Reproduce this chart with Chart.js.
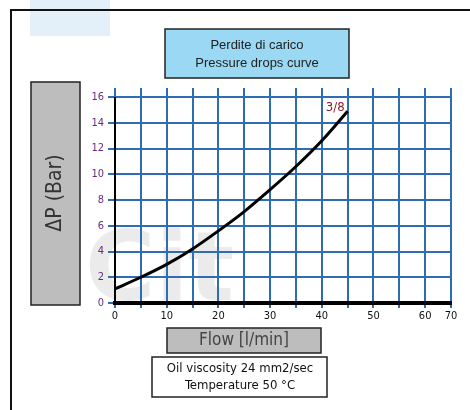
<!DOCTYPE html>
<html>
<head>
<meta charset="utf-8">
<script src="https://cdn.jsdelivr.net/npm/chart.js@4"></script>
<style>
  html, body { margin: 0; padding: 0; background: #fff; }
  #wrap { position: relative; width: 470px; height: 410px; }
</style>
</head>
<body>
<div id="wrap"><canvas id="chart" width="470" height="410"></canvas></div>
<script>
// flow [l/min] vs pressure drop [bar]
const flow = [0, 5, 10, 15, 20, 25, 30, 35, 40, 45];
const pressure = [1.1, 2.0, 3.0, 4.2, 5.6, 7.1, 8.8, 10.6, 12.6, 14.9];
const curveName = "3/8";
const titleLines = ["Perdite di carico", "Pressure drops curve"];
const yTitle = "\u0394P (Bar)";
const xTitle = "Flow [l/min]";
const noteLines = ["Oil viscosity 24 mm2/sec", "Temperature 50 \u00b0C"];

const handFont = "'DejaVu Sans Condensed', 'Liberation Sans Narrow', sans-serif";

function box(ctx, x, y, w, h, fill, lw) {
    ctx.save();
    ctx.fillStyle = fill;
    ctx.fillRect(x, y, w, h);
    ctx.lineWidth = lw;
    ctx.strokeStyle = "#222";
    ctx.strokeRect(x, y, w, h);
    ctx.restore();
}

const decorations = {
    id: "decorations",
    beforeDraw(chart) {
        const ctx = chart.ctx;
        ctx.save();
        // faint watermark
        ctx.fillStyle = "rgba(200, 225, 245, 0.5)";
        ctx.fillRect(30, 0, 80, 36);
        ctx.fillStyle = "rgba(120, 120, 120, 0.15)";
        ctx.font = "bold 96px 'DejaVu Sans', sans-serif";
        ctx.textBaseline = "alphabetic";
        ctx.fillText("Cit", 85, 300);
        // outer frame
        ctx.strokeStyle = "#111";
        ctx.lineWidth = 2;
        ctx.beginPath();
        ctx.moveTo(11, 410);
        ctx.lineTo(11, 10);
        ctx.lineTo(470, 10);
        ctx.stroke();
        ctx.restore();
    },
    afterDraw(chart) {
        const ctx = chart.ctx;
        const xs = chart.scales.x, ys = chart.scales.y;
        ctx.save();
        // grid lines poking above the top
        ctx.strokeStyle = "#2e6db4";
        ctx.lineWidth = 2;
        for (let v = 0; v <= 65; v += 5) {
            const px = Math.round(xs.getPixelForValue(v));
            ctx.beginPath();
            ctx.moveTo(px, chart.chartArea.top - 9);
            ctx.lineTo(px, chart.chartArea.top);
            ctx.stroke();
        }
        // title box
        box(ctx, 165, 29, 184, 49, "#9bd8f4", 1.5);
        ctx.fillStyle = "#222";
        ctx.textAlign = "center";
        ctx.textBaseline = "middle";
        ctx.font = "13px 'Liberation Sans', Arial, sans-serif";
        ctx.fillText(titleLines[0], 257, 45);
        ctx.fillText(titleLines[1], 257, 63);
        // y title box
        box(ctx, 31, 82, 49, 223, "#bdbdbd", 1.5);
        ctx.save();
        ctx.translate(56, 193);
        ctx.rotate(-Math.PI / 2);
        ctx.font = "21px " + handFont;
        ctx.fillStyle = "#333";
        ctx.fillText(yTitle, 0, 0);
        ctx.restore();
        // x title box
        box(ctx, 167, 328, 154, 25, "#bdbdbd", 1.5);
        ctx.font = "17px " + handFont;
        ctx.fillStyle = "#444";
        ctx.fillText(xTitle, 244, 341);
        // note box
        box(ctx, 152, 357, 175, 40, "#ffffff", 1.5);
        ctx.font = "13px " + handFont;
        ctx.fillStyle = "#111";
        ctx.fillText(noteLines[0], 240, 369);
        ctx.fillText(noteLines[1], 240, 386);
        // curve name
        const last = flow.length - 1;
        ctx.font = "13px " + handFont;
        ctx.fillStyle = "#8b1c2a";
        ctx.textAlign = "right";
        ctx.fillText(curveName, xs.getPixelForValue(flow[last]) - 3, ys.getPixelForValue(pressure[last]) - 4);
        ctx.restore();
    }
};

new Chart(document.getElementById("chart"), {
    type: "line",
    data: {
        datasets: [{
            label: curveName,
            data: flow.map((f, i) => ({ x: f, y: pressure[i] })),
            borderColor: "#000",
            borderWidth: 3,
            pointRadius: 0,
            cubicInterpolationMode: "monotone",
            fill: false
        }]
    },
    options: {
        responsive: false,
        animation: false,
        layout: { padding: { left: 85, right: 19, top: 97, bottom: 87 } },
        plugins: { legend: { display: false }, tooltip: { enabled: false } },
        scales: {
            x: {
                type: "linear",
                min: 0,
                max: 65,
                afterFit(scale) { scale.height = 20; },
                ticks: {
                    stepSize: 5,
                    autoSkip: false,
                    maxRotation: 0,
                    color: "#111",
                    padding: 2,
                    font: { family: handFont, size: 11 },
                    callback: v => v === 65 ? "70" : (v % 10 === 0 ? String(v) : "")
                },
                grid: { color: "#2e6db4", lineWidth: 2, tickLength: 5, tickColor: "#2e6db4" },
                border: { color: "#000", width: 4 }
            },
            y: {
                min: 0,
                max: 16,
                afterFit(scale) { scale.width = 30; },
                ticks: {
                    stepSize: 2,
                    color: "#6a2b7c",
                    padding: 4,
                    font: { family: handFont, size: 11 }
                },
                grid: { color: "#2e6db4", lineWidth: 2, tickLength: 7, tickColor: "#2e6db4" },
                border: { color: "#000", width: 2 }
            }
        }
    },
    plugins: [decorations]
});
</script>
</body>
</html>
